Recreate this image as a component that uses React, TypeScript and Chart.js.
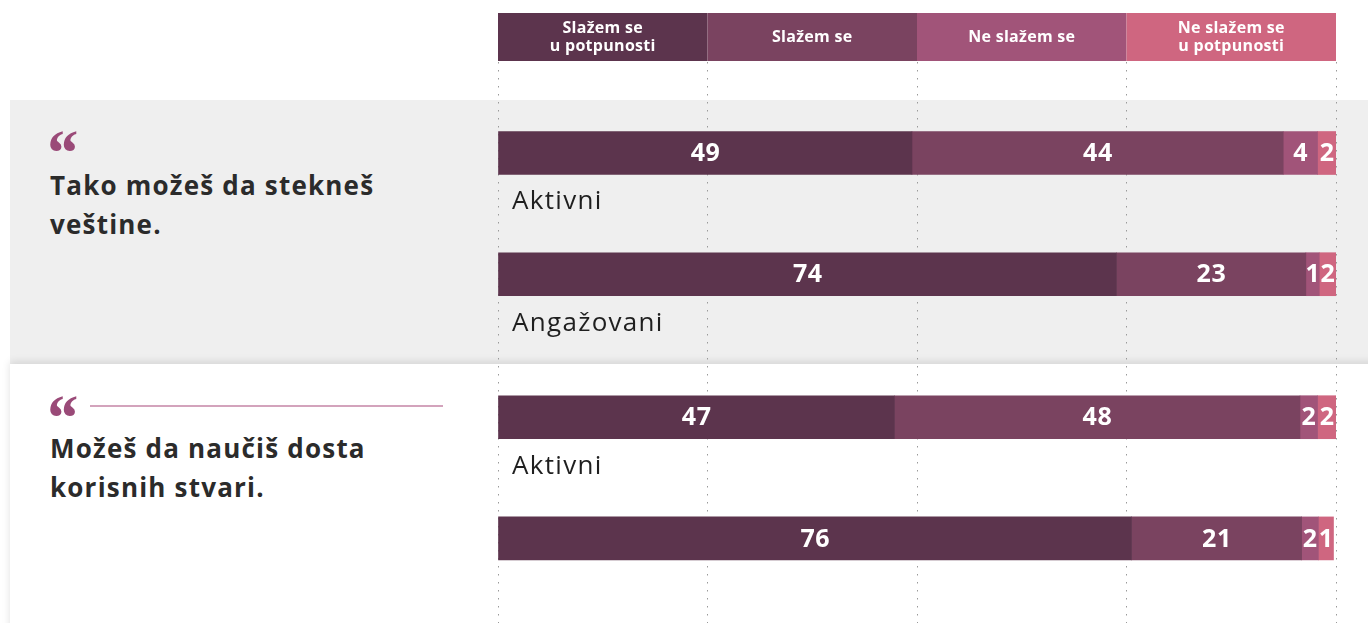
import React, { useEffect, useRef } from "react";
import { Chart, registerables } from "chart.js";

Chart.register(...registerables);

// ---- data ----
const SERIES_NAMES = ["Slažem se u potpunosti", "Slažem se", "Ne slažem se", "Ne slažem se u potpunosti"];
const HEADER_LINES = [["Slažem se", "u potpunosti"], ["Slažem se"], ["Ne slažem se"], ["Ne slažem se", "u potpunosti"]];
const QUESTIONS = [["Tako možeš da stekneš", "veštine."], ["Možeš da naučiš dosta", "korisnih stvari."]];
const ROW_LABELS = ["Aktivni", "Angažovani", "Aktivni", ""];
const ROW_GROUP = [0, 0, 1, 1];
const ROW_IN_GROUP = [0, 1, 0, 1];

const AGREE_FULLY = [49.4, 73.8, 47.3, 75.6];
const AGREE = [44.3, 22.6, 48.4, 20.3];
const DISAGREE = [4.1, 1.6, 2.1, 2.0];
const DISAGREE_FULLY = [2.2, 2.0, 2.2, 1.8];

const AGREE_FULLY_LABELS = ["49", "74", "47", "76"];
const AGREE_LABELS = ["44", "23", "48", "21"];
const DISAGREE_LABELS = ["4", "1", "2", "2"];
const DISAGREE_FULLY_LABELS = ["2", "2", "2", "1"];

const X_TICKS = [0, 25, 50, 75, 100];

// ---- styles ----
const COLORS = ["#5c344d", "#7a4360", "#a15479", "#cf6680"];
const FONT = '"Open Sans", "Noto Sans", sans-serif';
const GROUP_GAP = 0.18;

const SERIES = [AGREE_FULLY, AGREE, DISAGREE, DISAGREE_FULLY];
const SERIES_LABELS = [AGREE_FULLY_LABELS, AGREE_LABELS, DISAGREE_LABELS, DISAGREE_FULLY_LABELS];

const rowPos = (i: number) => ROW_GROUP[i] * (2 + GROUP_GAP) + ROW_IN_GROUP[i];

const overlayPlugin = {
  id: "overlay",
  beforeDraw(chart: any) {
    const ctx = chart.ctx;
    const xs = chart.scales.x;
    ctx.save();
    for (let i = 0; i < 4; i++) {
      const x0 = xs.getPixelForValue(X_TICKS[i]);
      const x1 = xs.getPixelForValue(X_TICKS[i + 1]);
      ctx.fillStyle = COLORS[i];
      ctx.fillRect(x0, 13, x1 - x0, 48);
      ctx.fillStyle = "#ffffff";
      ctx.font = `700 16px ${FONT}`;
      (ctx as any).letterSpacing = "0.3px";
      ctx.textAlign = "center";
      ctx.textBaseline = "middle";
      const lines = HEADER_LINES[i];
      const cx = (x0 + x1) / 2;
      if (lines.length === 1) {
        ctx.fillText(lines[0], cx, 37);
      } else {
        ctx.fillText(lines[0], cx, 28);
        ctx.fillText(lines[1], cx, 46);
      }
    }
    ctx.restore();
  },
  afterDatasetsDraw(chart: any) {
    const ctx = chart.ctx;
    ctx.save();
    (ctx as any).letterSpacing = "0.6px";
    ctx.fillStyle = "#ffffff";
    ctx.font = `700 25px ${FONT}`;
    ctx.textAlign = "center";
    ctx.textBaseline = "middle";
    chart.data.datasets.forEach((_: any, di: number) => {
      const meta = chart.getDatasetMeta(di);
      meta.data.forEach((bar: any, i: number) => {
        const { x, base, y } = bar.getProps(["x", "base", "y"], true);
        ctx.fillText(SERIES_LABELS[di][i], (x + base) / 2 + 0.3, y + 1);
      });
    });
    ctx.fillStyle = "#1f1f1f";
    ctx.font = `400 26px ${FONT}`;
    (ctx as any).letterSpacing = "1.3px";
    ctx.textAlign = "left";
    const meta0 = chart.getDatasetMeta(0);
    meta0.data.forEach((bar: any, i: number) => {
      if (ROW_LABELS[i]) ctx.fillText(ROW_LABELS[i], chart.chartArea.left + 14, bar.y + 49);
    });
    ctx.restore();
  },
};

function BarChart() {
  const ref = useRef<HTMLCanvasElement | null>(null);
  useEffect(() => {
    if (!ref.current) return;
    const chart = new Chart(ref.current, {
      type: "bar",
      data: {
        datasets: SERIES.map((vals, si) => ({
          label: SERIES_NAMES[si],
          data: vals.map((v, i) => ({ x: v, y: rowPos(i) })),
          backgroundColor: COLORS[si],
          borderWidth: 0,
          barThickness: 43,
        })),
      },
      options: {
        indexAxis: "y",
        animation: false,
        responsive: false,
        maintainAspectRatio: false,
        layout: { padding: { left: 498, right: 32, top: 62, bottom: 0 } },
        plugins: { legend: { display: false }, tooltip: { enabled: false } },
        scales: {
          x: {
            type: "linear",
            min: 0,
            max: 100,
            stacked: true,
            afterBuildTicks: (s: any) => {
              s.ticks = X_TICKS.map((v) => ({ value: v }));
            },
            ticks: { display: false },
            grid: { color: "#9a9a9a", lineWidth: 1, drawTicks: false },
            border: { display: false, dash: [1.5, 6.5] },
          },
          y: {
            type: "linear",
            min: -0.751,
            max: 3.878,
            reverse: true,
            stacked: true,
            offset: false,
            display: false,
          },
        },
      } as any,
      plugins: [overlayPlugin],
    });
    return () => chart.destroy();
  }, []);
  return (
    <canvas
      ref={ref}
      width={1368}
      height={623}
      style={{ position: "absolute", left: 0, top: 0, width: 1368, height: 623 }}
    />
  );
}

const quoteStyle: React.CSSProperties = {
  position: "absolute",
  left: 44,
  fontFamily: '"Liberation Serif", serif',
  fontWeight: 700,
  fontStyle: "italic",
  fontSize: 66,
  lineHeight: "66px",
  color: "#9a4a78",
};

const questionStyle: React.CSSProperties = {
  position: "absolute",
  left: 50,
  fontFamily: FONT,
  fontWeight: 700,
  fontSize: 26,
  lineHeight: "39px",
  letterSpacing: "1.2px",
  color: "#2b2b2b",
  whiteSpace: "nowrap",
};

export default function App() {
  return (
    <div
      style={{
        position: "absolute",
        left: 0,
        top: 0,
        width: 1368,
        height: 623,
        overflow: "hidden",
        background: "#ffffff",
      }}
    >
      <div style={{ position: "absolute", left: 10, top: 100, width: 1358, height: 264, background: "#efefef" }} />
      <div
        style={{
          position: "absolute",
          left: 10,
          top: 364,
          width: 1370,
          height: 280,
          background: "#ffffff",
          boxShadow: "0 -2px 8px rgba(0,0,0,0.12)",
        }}
      />
      <div style={{ ...quoteStyle, top: 120 }}>“</div>
      <div style={{ ...questionStyle, top: 166 }}>
        {QUESTIONS[0].map((l, i) => (
          <div key={i}>{l}</div>
        ))}
      </div>
      <div style={{ ...quoteStyle, top: 385 }}>“</div>
      <div style={{ position: "absolute", left: 90, top: 405, width: 353, height: 2, background: "#d3a3bc" }} />
      <div style={{ ...questionStyle, top: 429 }}>
        {QUESTIONS[1].map((l, i) => (
          <div key={i}>{l}</div>
        ))}
      </div>
      <BarChart />
    </div>
  );
}
